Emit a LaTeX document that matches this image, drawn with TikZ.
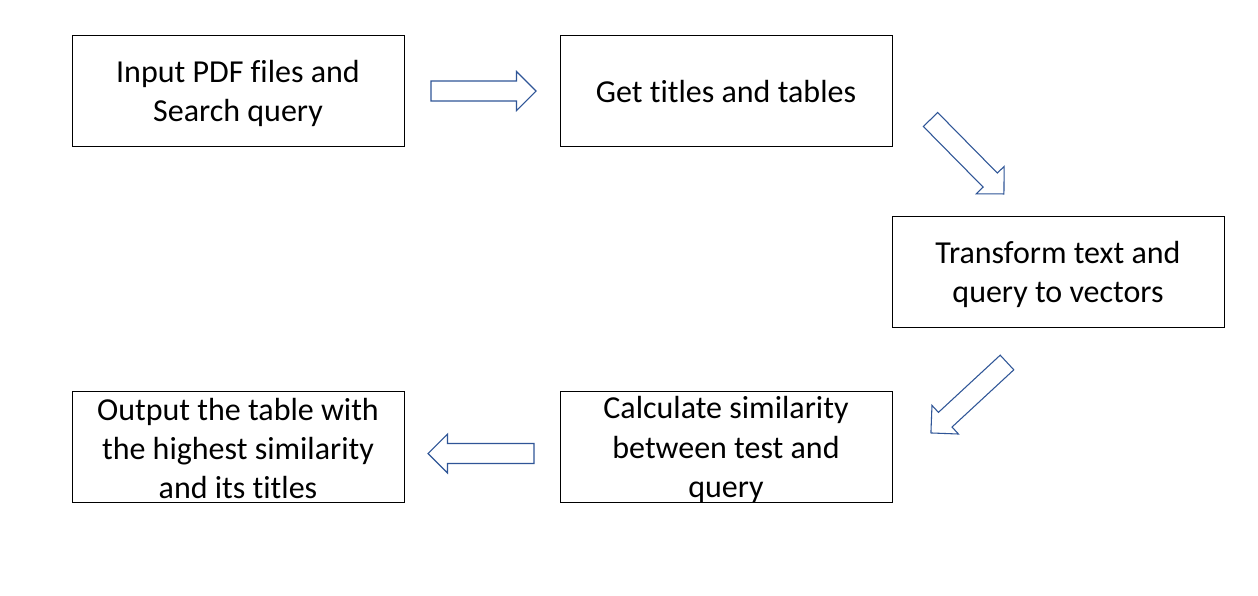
\documentclass[tikz,border=0pt]{standalone}
\usepackage{fontspec}
\setmainfont{Carlito}[RawFeature={-liga;-clig;-dlig}]
\definecolor{arrowblue}{HTML}{2F5597}
\tikzset{
  box/.style={draw=black, line width=0.75pt, minimum width=249pt, minimum height=83.25pt, inner sep=0pt},
  txt/.style={align=center, inner sep=0pt, font=\fontsize{24}{29.3}\selectfont, text=black},
  arrowline/.style={draw=arrowblue, line width=0.8pt, fill=white, line join=miter},
  barrow/.pic={\draw[arrowline] (0,-10) -- ({#1-19.5},-10) -- ({#1-19.5},-19.5) -- (#1,0) -- ({#1-19.5},19.5) -- ({#1-19.5},10) -- (0,10) -- cycle;}
}
\begin{document}
\begin{tikzpicture}[x=0.75pt,y=-0.75pt]
\useasboundingbox (0,0) rectangle (1258,596);
\fill[white] (0,0) rectangle (1258,596);
\node[box] (b1) at (238,90.5) {};
\node[box] (b2) at (726,90.5) {};
\node[box] (b3) at (1058,271.5) {};
\node[box] (b4) at (726,446.5) {};
\node[box] (b5) at (238,446.5) {};
\node[txt] (t1) at ([yshift=-2.25pt]b1.center) {Input PDF files and\\Search query};
\node[txt] (t2) at ([yshift=-0.75pt]b2.center) {Get titles and tables};
\node[txt] (t3) at ([yshift=-2.25pt]b3.center) {Transform text and\\query to vectors};
\node[txt] (t4) at ([yshift=-2.25pt]b4.center) {Calculate similarity\\between test and\\query};
\node[txt] (t5) at ([yshift=-1.5pt]b5.center) {Output the table with\\the highest similarity\\and its titles};
\pic at (431,91) {barrow=105};
\pic[rotate=-45.4] at (930.5,119.5) {barrow=104.6};
\pic[rotate=-137.2] at (1007,362.5) {barrow=103.7};
\pic[rotate=180] at (534,453.5) {barrow=106};
\end{tikzpicture}
\end{document}
